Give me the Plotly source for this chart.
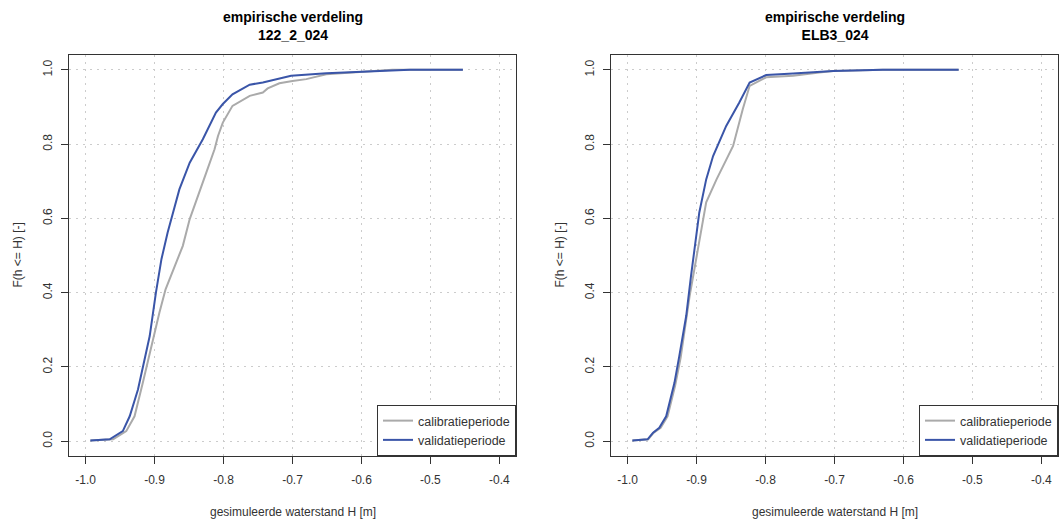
import plotly.graph_objects as go

# ---- data ----
x_ticks = [-1.0, -0.9, -0.8, -0.7, -0.6, -0.5, -0.4]
x_tick_text = ["-1.0", "-0.9", "-0.8", "-0.7", "-0.6", "-0.5", "-0.4"]
y_ticks = [0.0, 0.2, 0.4, 0.6, 0.8, 1.0]
y_tick_text = ["0.0", "0.2", "0.4", "0.6", "0.8", "1.0"]

panel_titles = ["empirische verdeling<br>122_2_024", "empirische verdeling<br>ELB3_024"]
series_names = ["calibratieperiode", "validatieperiode"]

# Panel 1: 122_2_024
p1_cal_x = [-0.993, -0.960, -0.941, -0.929, -0.917, -0.902, -0.893, -0.884, -0.871, -0.859,
            -0.849, -0.840, -0.825, -0.813, -0.808, -0.801, -0.787, -0.762, -0.743, -0.736,
            -0.719, -0.700, -0.680, -0.651, -0.603, -0.555, -0.453]
p1_cal_F = [0.002, 0.005, 0.027, 0.067, 0.157, 0.280, 0.346, 0.409, 0.472, 0.526,
            0.598, 0.643, 0.723, 0.786, 0.822, 0.858, 0.903, 0.930, 0.939, 0.950,
            0.964, 0.970, 0.975, 0.988, 0.995, 1.000, 1.000]
p1_val_x = [-0.993, -0.965, -0.946, -0.936, -0.924, -0.917, -0.907, -0.898, -0.890, -0.881,
            -0.864, -0.849, -0.830, -0.811, -0.801, -0.787, -0.762, -0.743, -0.719, -0.702,
            -0.651, -0.579, -0.530, -0.453]
p1_val_F = [0.002, 0.005, 0.027, 0.067, 0.139, 0.202, 0.283, 0.400, 0.490, 0.562,
            0.678, 0.750, 0.813, 0.885, 0.908, 0.934, 0.960, 0.966, 0.977, 0.984,
            0.991, 0.997, 1.000, 1.000]

# Panel 2: ELB3_024
p2_cal_x = [-0.993, -0.970, -0.962, -0.952, -0.942, -0.931, -0.923, -0.910, -0.898, -0.886,
            -0.871, -0.847, -0.833, -0.823, -0.799, -0.760, -0.722, -0.702, -0.630, -0.520]
p2_cal_F = [0.002, 0.005, 0.023, 0.036, 0.067, 0.150, 0.225, 0.391, 0.517, 0.643,
            0.705, 0.795, 0.894, 0.957, 0.980, 0.984, 0.993, 0.997, 1.000, 1.000]
p2_val_x = [-0.993, -0.971, -0.963, -0.954, -0.944, -0.932, -0.925, -0.915, -0.908, -0.903,
            -0.896, -0.886, -0.876, -0.857, -0.838, -0.823, -0.799, -0.760, -0.722, -0.702,
            -0.630, -0.520]
p2_val_F = [0.002, 0.005, 0.023, 0.036, 0.067, 0.157, 0.229, 0.337, 0.445, 0.517,
            0.616, 0.705, 0.768, 0.849, 0.912, 0.966, 0.986, 0.990, 0.995, 0.997,
            1.000, 1.000]

# ---- styling ----
W, H = 1059, 527
FONT = "Liberation Sans, Arial, sans-serif"
TXT = "#333333"
GRAY = "#aaaaaa"
BLUE = "#3a55a8"

x_doms = [[69 / W, 516 / W], [611 / W, 1058 / W]]
y_dom = [(H - 456) / H, (H - 55) / H]

fig = go.Figure()

panels = [
    (p1_cal_x, p1_cal_F, p1_val_x, p1_val_F, "x", "y", "legend"),
    (p2_cal_x, p2_cal_F, p2_val_x, p2_val_F, "x2", "y2", "legend2"),
]
for cx, cF, vx, vF, xa, ya, lg in panels:
    fig.add_trace(go.Scatter(x=cx, y=cF, mode="lines", name=series_names[0],
                             line=dict(color=GRAY, width=2), xaxis=xa, yaxis=ya, legend=lg))
    fig.add_trace(go.Scatter(x=vx, y=vF, mode="lines", name=series_names[1],
                             line=dict(color=BLUE, width=2), xaxis=xa, yaxis=ya, legend=lg))

xr = [-1.0 - 0.024, -0.4 + 0.024]
yr = [-0.04, 1.04]

axis_common = dict(
    showline=True, mirror=True, linecolor=TXT, linewidth=1,
    ticks="outside", ticklen=7, tickcolor=TXT, tickwidth=1,
    showgrid=True, gridcolor="#cccccc", griddash="2px,5px", gridwidth=1.3,
    zeroline=False, tickfont=dict(family=FONT, size=12, color=TXT),
)

layout = dict(
    width=W, height=H, margin=dict(l=0, r=0, t=0, b=0),
    paper_bgcolor="white", plot_bgcolor="white",
    font=dict(family=FONT, size=12, color=TXT),
    showlegend=True,
)
for i, (xk, yk) in enumerate([("xaxis", "yaxis"), ("xaxis2", "yaxis2")]):
    layout[xk] = dict(axis_common, domain=x_doms[i], range=xr, tickvals=x_ticks,
                      ticktext=x_tick_text, anchor="y" if i == 0 else "y2",
                      ticklabelstandoff=6)
    layout[yk] = dict(axis_common, domain=y_dom, range=yr, tickvals=y_ticks,
                      ticktext=y_tick_text, anchor="x" if i == 0 else "x2",
                      tickangle=-90, ticklabelstandoff=4)

leg_common = dict(bgcolor="white", bordercolor=TXT, borderwidth=1,
                  xanchor="right", yanchor="bottom", y=y_dom[0],
                  font=dict(family=FONT, size=12.5, color=TXT),
                  tracegroupgap=0, itemwidth=30)
layout["legend"] = dict(leg_common, x=x_doms[0][1])
layout["legend2"] = dict(leg_common, x=x_doms[1][1])

fig.update_layout(**layout)

annotations = []
for i in range(2):
    xc = (x_doms[i][0] + x_doms[i][1]) / 2
    annotations.append(dict(text="<b>" + panel_titles[i] + "</b>", x=xc, y=(H - 26) / H,
                            xref="paper", yref="paper", showarrow=False,
                            xanchor="center", yanchor="middle",
                            font=dict(family=FONT, size=14, color="black")))
    annotations.append(dict(text="gesimuleerde waterstand H [m]", x=xc, y=(H - 512) / H,
                            xref="paper", yref="paper", showarrow=False,
                            xanchor="center", yanchor="middle",
                            font=dict(family=FONT, size=12, color=TXT)))
    ylab_x = 17 if i == 0 else 559
    annotations.append(dict(text="F(h <= H) [-]", x=ylab_x / W, y=(y_dom[0] + y_dom[1]) / 2,
                            xref="paper", yref="paper", showarrow=False, textangle=-90,
                            xanchor="center", yanchor="middle",
                            font=dict(family=FONT, size=12, color=TXT)))
fig.update_layout(annotations=annotations)

fig.write_html("out.html")
